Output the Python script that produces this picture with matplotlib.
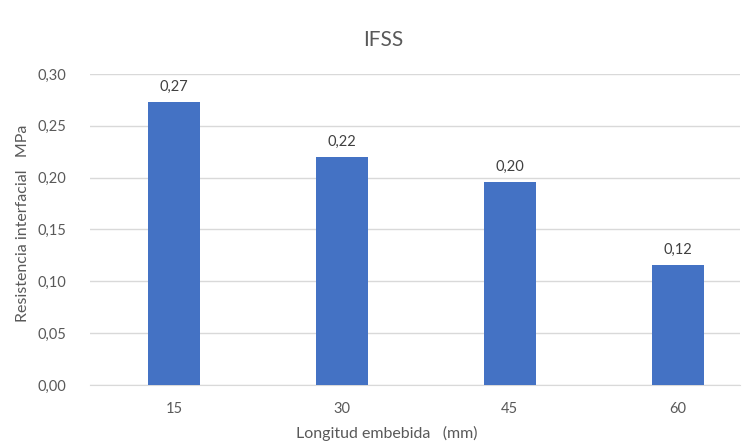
import matplotlib.pyplot as plt
from matplotlib.ticker import FuncFormatter

categories = ["15", "30", "45", "60"]
ifss = [0.273, 0.220, 0.196, 0.116]
yticks = [0.00, 0.05, 0.10, 0.15, 0.20, 0.25, 0.30]

plt.rcParams['font.family'] = ['Lato', 'DejaVu Sans']
grey = '#595959'

fig = plt.figure(figsize=(7.53, 4.44), dpi=100)
ax = fig.add_axes([0.1195, 0.1329, 0.863, 0.7005])

x = range(len(categories))
bars = ax.bar(x, ifss, width=0.31, color='#4472C4', zorder=3)

for b, v in zip(bars, ifss):
    ax.annotate(f"{v:.2f}".replace('.', ','), (b.get_x() + b.get_width() / 2, v),
                xytext=(0, 6), textcoords='offset points', ha='center', va='bottom',
                fontsize=10.5, color='#404040')

ax.set_xlim(-0.5, 3.37)
ax.set_ylim(0, 0.30)
ax.set_yticks(yticks)
ax.yaxis.set_major_formatter(FuncFormatter(lambda v, p: f"{v:.2f}".replace('.', ',')))
ax.set_xticks(list(x))
ax.set_xticklabels(categories)
ax.grid(axis='y', color='#D9D9D9', linewidth=1, zorder=0)
for s in ['top', 'right', 'left']:
    ax.spines[s].set_visible(False)
ax.spines['bottom'].set_color('#D9D9D9')
ax.tick_params(axis='both', length=0, colors=grey, labelsize=10.5)
ax.tick_params(axis='x', pad=12)
ax.tick_params(axis='y', pad=17)

fig.text(383 / 753, 1 - 40 / 444, "IFSS", fontsize=15, color=grey, ha='center', va='center')
ax.set_xlabel("Longitud embebida   (mm)", fontsize=11.5, color=grey)
ax.xaxis.set_label_coords(0.457, -0.133)
ax.set_ylabel("Resistencia interfacial   MPa", fontsize=11.5, color=grey)
ax.yaxis.set_label_coords(-0.092, 0.52)

plt.savefig("out.png", dpi=100)
